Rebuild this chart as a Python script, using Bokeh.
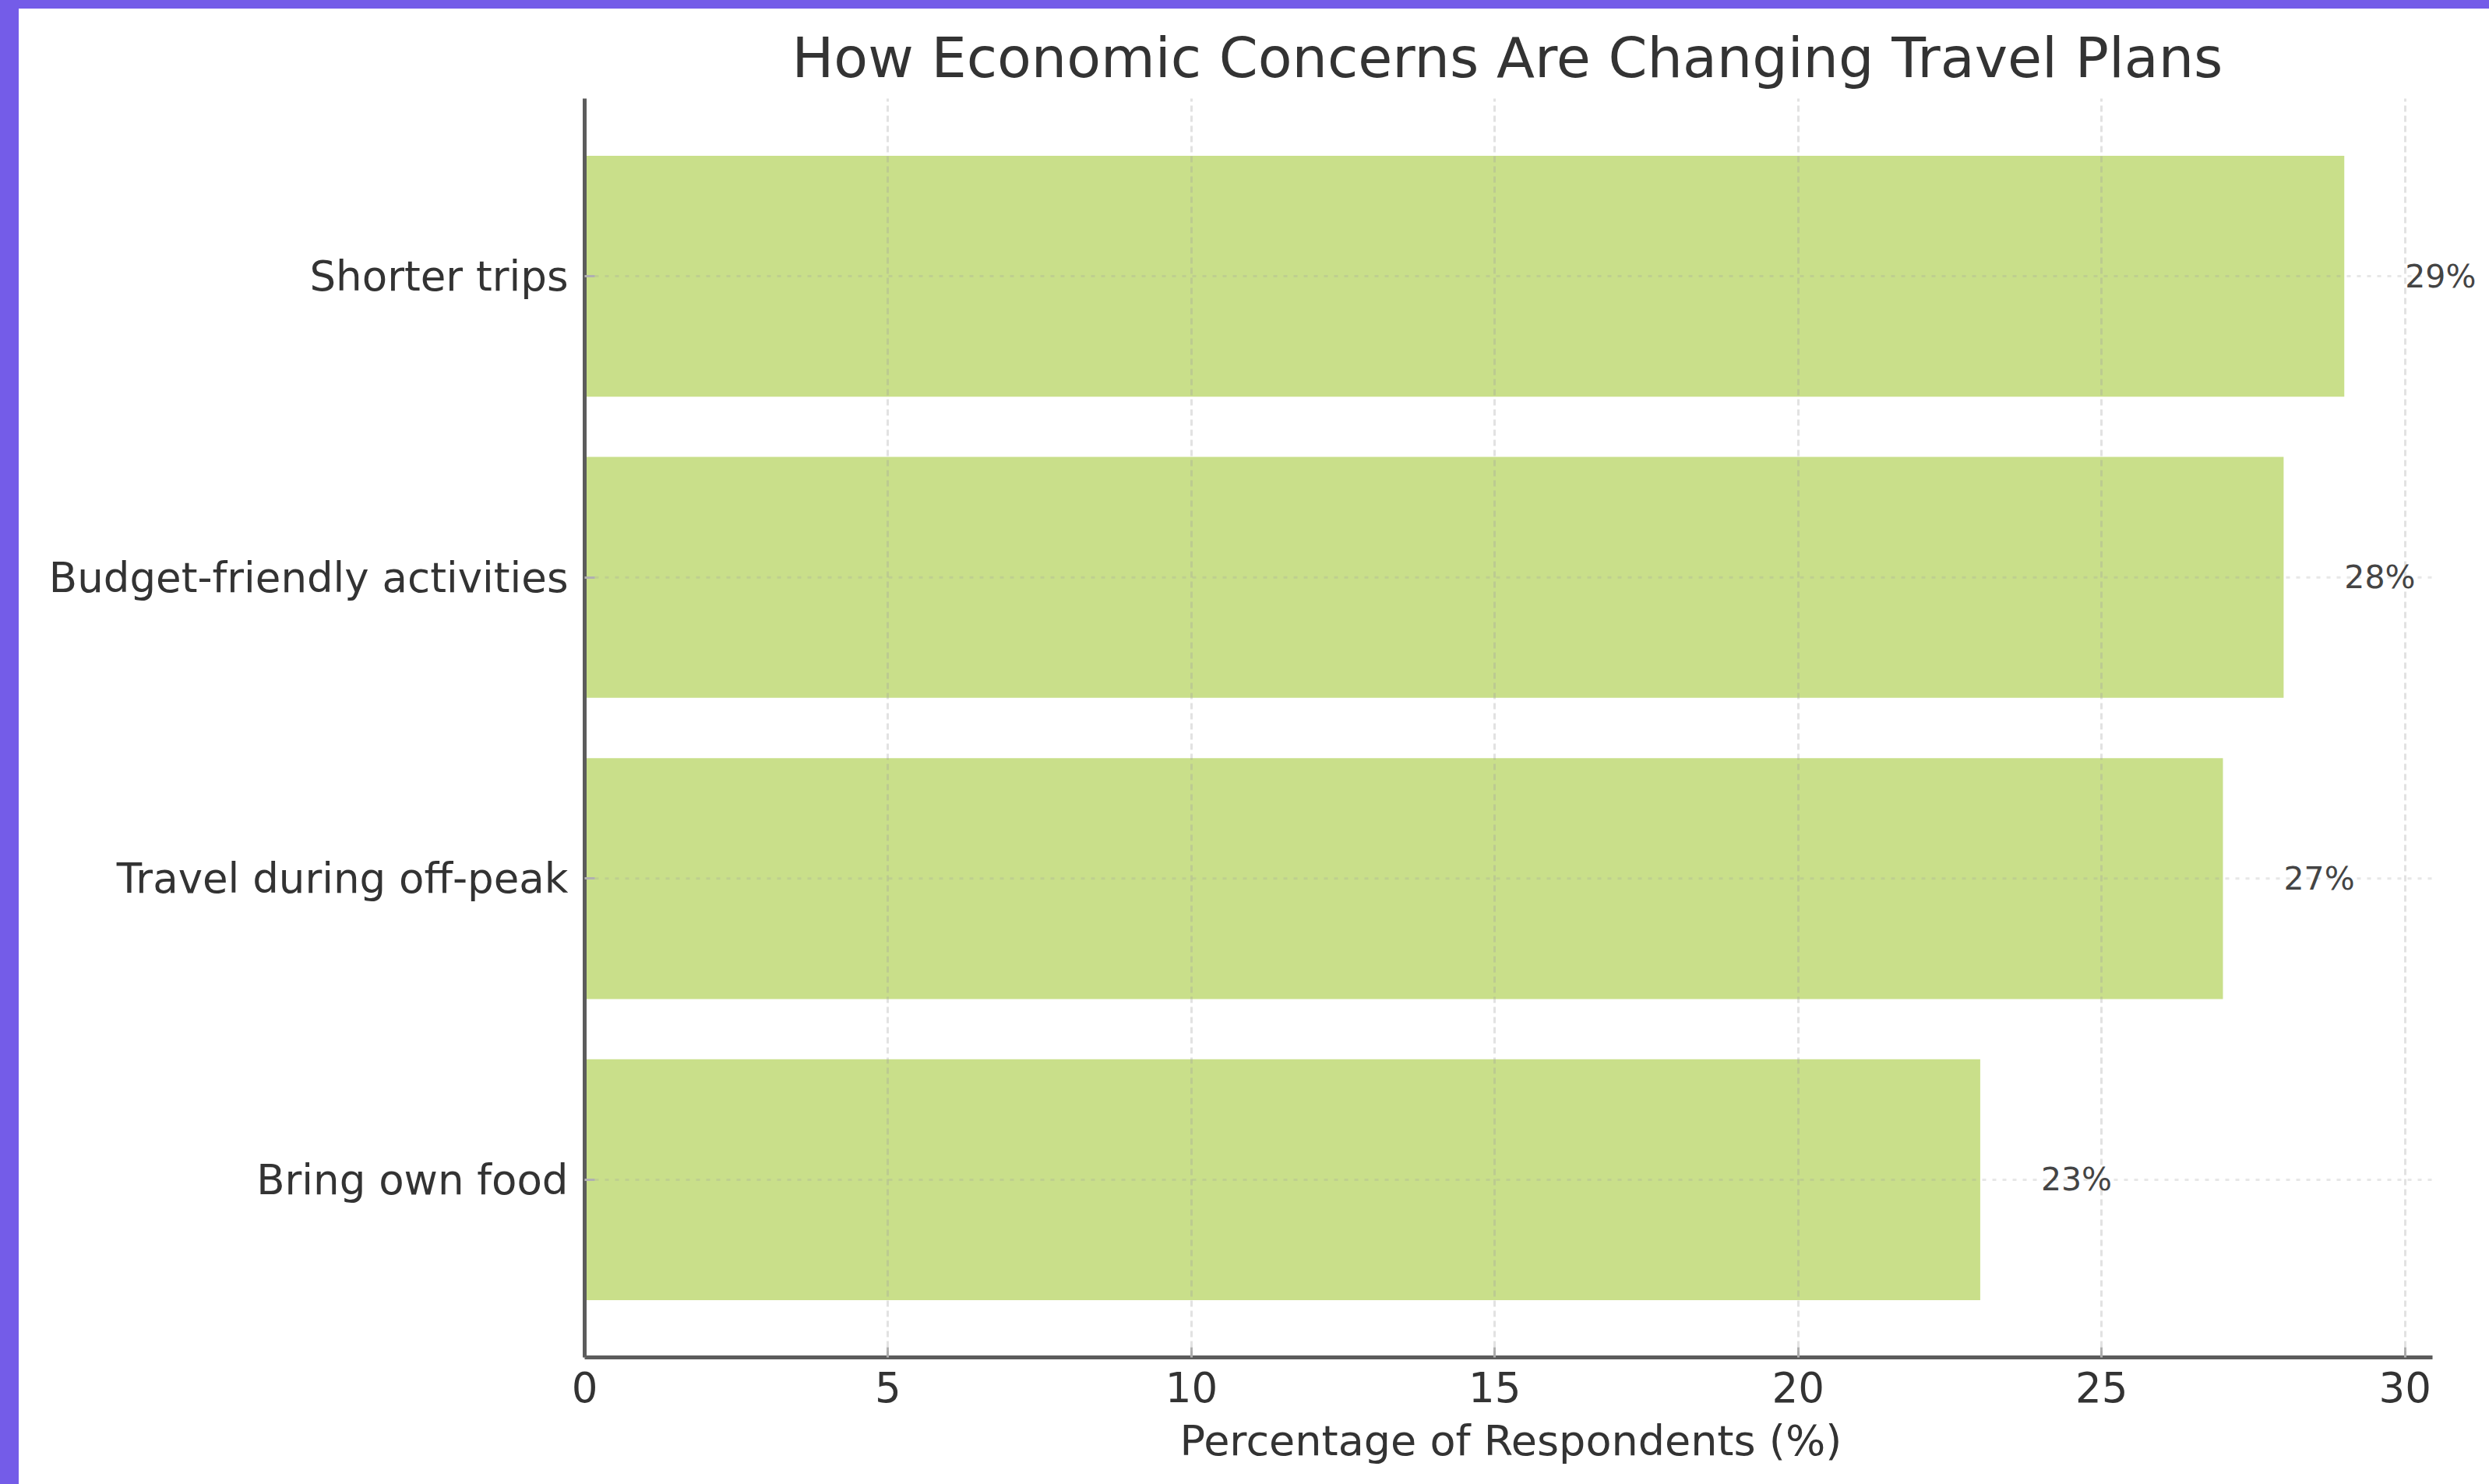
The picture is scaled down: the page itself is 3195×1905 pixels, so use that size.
from bokeh.plotting import figure
from bokeh.models import Div, Range1d, FactorRange, LabelSet, ColumnDataSource, FixedTicker, Title
from bokeh.layouts import row, column
from bokeh.core.properties import value
from bokeh.embed import file_html
from bokeh.resources import INLINE

# ---- data ----
categories = ["Shorter trips", "Budget-friendly activities", "Travel during off-peak", "Bring own food"]
values = [29, 28, 27, 23]
value_labels = ["29%", "28%", "27%", "23%"]
x_ticks = [0, 5, 10, 15, 20, 25, 30]
title_text = "How Economic Concerns Are Changing Travel Plans"
x_label = "Percentage of Respondents (%)"

FONT = "DejaVu Sans"
PURPLE = "#745CE8"
BAR = "#C9DF8A"
X_AXIS_END = 30.45   # axis extent (max value + 5% margin)

src = ColumnDataSource(dict(cat=categories, val=values, lab=value_labels))

p = figure(
    width=3171, height=1894,
    y_range=FactorRange(factors=list(reversed(categories)), range_padding=0.09,
                        range_padding_units="absolute"),
    x_range=Range1d(0, 31.25),
    output_backend="svg", toolbar_location=None,
    min_border_left=726, min_border_right=11, min_border_top=115, min_border_bottom=163,
)
p.background_fill_color = "white"
p.border_fill_color = "white"
p.outline_line_color = None

p.hbar(y="cat", right="val", left=0, height=0.8, source=src,
       fill_color=BAR, line_color=None)

# horizontal grid lines at each category, limited to the axis extent
gl = p.segment(x0=0, x1=X_AXIS_END, y0="cat", y1="cat", source=src,
               line_color="#a0a0a0", line_alpha=0.25, line_width=3, line_dash="5 8")
gl.level = "guide"

labels = LabelSet(x="val", y="cat", text="lab", source=src, x_offset=78,
                  text_font=value(FONT), text_font_size="41px", text_color="#444444",
                  text_align="left", text_baseline="middle")
p.add_layout(labels)

# title (placed so that it is centred over the axis extent)
p.title.text = title_text
p.title.align = "left"
p.title.offset = 266
p.title.text_font = FONT
p.title.text_font_size = "71.6px"
p.title.text_font_style = "normal"
p.title.text_color = "#333333"
p.title.standoff = 22

# axes
for ax in (p.xaxis[0], p.yaxis[0]):
    ax.axis_line_color = "#5c5c5c"
    ax.axis_line_width = 5
    ax.major_tick_in = 13
    ax.major_tick_out = 0
    ax.major_tick_line_color = "#b0b0b0"
    ax.major_tick_line_width = 3
    ax.minor_tick_line_color = None
    ax.major_label_text_font = FONT
    ax.major_label_text_font_size = "53px"
    ax.major_label_text_color = "#333333"

p.xaxis.ticker = FixedTicker(ticks=x_ticks)
p.xaxis.bounds = (0, X_AXIS_END)
p.xaxis.major_label_standoff = 18
p.yaxis.major_label_standoff = 21

# x axis title, centred over the axis extent
xt = Title(text=x_label, align="left", offset=764, text_font=FONT,
           text_font_size="54px", text_font_style="normal", text_color="#333333",
           standoff=27)
p.add_layout(xt, "below")

# vertical grid above bars
p.xgrid.grid_line_color = "#a0a0a0"
p.xgrid.grid_line_alpha = 0.3
p.xgrid.grid_line_width = 3
p.xgrid.grid_line_dash = "8 5"
p.xgrid.level = "guide"
p.ygrid.grid_line_color = None

left_strip = Div(width=24, height=1905, margin=0, styles={"background-color": PURPLE})
top_strip = Div(width=3171, height=11, margin=0, styles={"background-color": PURPLE})
layout = row(left_strip, column(top_strip, p, spacing=0), spacing=0)

open("out.html", "w").write(file_html(layout, INLINE))
